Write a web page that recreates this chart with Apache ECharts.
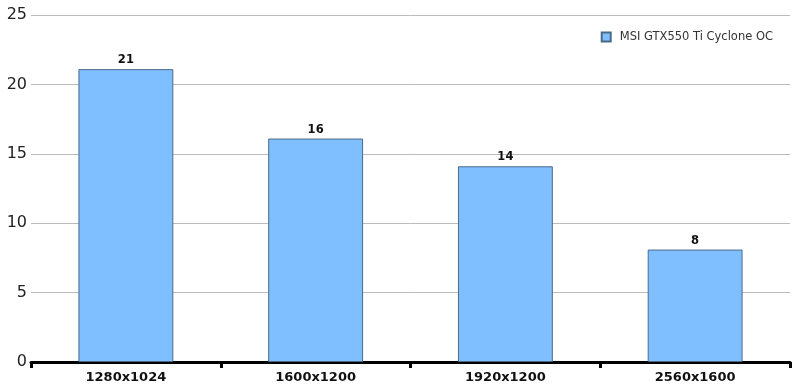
<!DOCTYPE html>
<html><head><meta charset="utf-8">
<script src="https://cdn.jsdelivr.net/npm/echarts@6/dist/echarts.min.js"></script>
<style>html,body{margin:0;padding:0;background:#fff}#c{width:798px;height:391px}</style>
</head><body><div id="c"></div>
<script>
var categories = ['1280x1024', '1600x1200', '1920x1200', '2560x1600'];
var seriesName = 'MSI GTX550 Ti Cyclone OC';
var values = [21.1, 16.1, 14.1, 8.1];
var yTicks = [0, 5, 10, 15, 20, 25];

var chart = echarts.init(document.getElementById('c'));
chart.setOption({
  animation: false,
  textStyle: { fontFamily: 'DejaVu Sans' },
  legend: {
    data: [{ name: seriesName, icon: 'rect' }], right: 20, top: 26, itemWidth: 9, itemHeight: 9,
    textStyle: { fontSize: 11.5, color: '#333', fontFamily: 'DejaVu Sans', padding: [0, 0, 0, 4] }
  },
  grid: { left: 31, right: 8, top: 15, bottom: 29 },
  xAxis: {
    type: 'category', data: categories,
    axisLine: { lineStyle: { color: '#000', width: 3 } },
    axisTick: { show: true, length: 6, lineStyle: { color: '#000', width: 3 } },
    axisLabel: { fontWeight: 'bold', fontSize: 13, color: '#111', margin: 9 }
  },
  yAxis: {
    type: 'value', min: yTicks[0], max: yTicks[yTicks.length - 1], interval: 5,
    axisLine: { show: false }, axisTick: { show: false },
    axisLabel: { fontSize: 16, color: '#222', margin: 4, padding: [3, 0, 0, 0] },
    splitLine: { lineStyle: { color: '#bbb', width: 1 } }
  },
  series: [{
    name: seriesName, type: 'bar', data: values, barWidth: '50%',
    itemStyle: { color: '#80bfff', borderColor: '#4a6a8a', borderWidth: 1 },
    label: { show: true, position: 'top', fontWeight: 'bold', fontSize: 11.5, color: '#111', distance: 3,
      formatter: function (p) { return Math.round(p.value); } }
  }]
});
</script></body></html>
